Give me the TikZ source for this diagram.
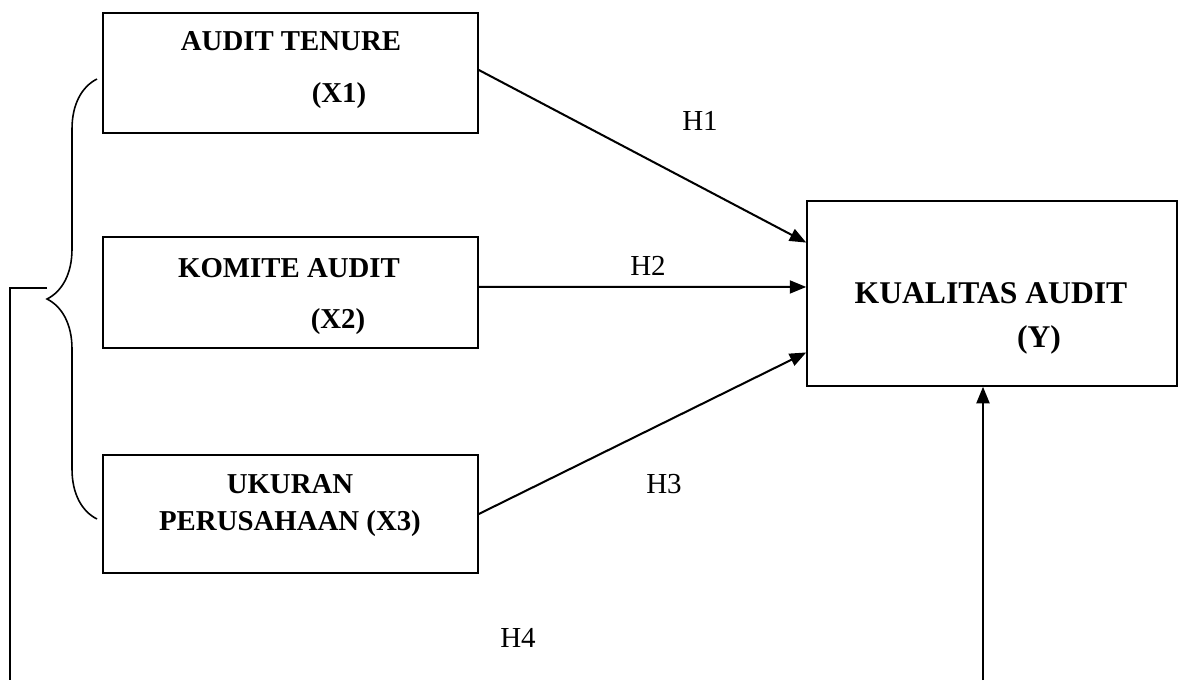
\documentclass[tikz,border=0pt]{standalone}
\usepackage{fontspec}
\setmainfont{Liberation Serif}
\usetikzlibrary{calc, arrows.meta, decorations.pathreplacing}
\tikzset{
    varbox/.style={draw, line width=0.9pt, inner sep=0pt},
    boxtext/.style={font=\bfseries\fontsize{16.4}{19}\selectfont, anchor=base},
    ytext/.style={font=\bfseries\fontsize{18}{21}\selectfont, anchor=base},
    hlabel/.style={font=\fontsize{16.5}{20}\selectfont, anchor=base},
    link/.style={line width=1.15pt, -{Triangle[length=3.3mm, width=2.6mm]}},
    common settings/.style={x=0.02cm, y=-0.02cm}
}

\begin{document}
\begin{tikzpicture}[common settings]

    \useasboundingbox (0,0) rectangle (1184,680);

    % 1. Variable boxes
    \node[varbox, minimum width=7.5cm, minimum height=2.4cm]  (x1) at (290.5,73) {};
    \node[varbox, minimum width=7.5cm, minimum height=2.22cm] (x2) at (290.5,292.5) {};
    \node[varbox, minimum width=7.5cm, minimum height=2.36cm] (x3) at (290.5,514) {};
    \node[varbox, minimum width=7.4cm, minimum height=3.7cm]  (y)  at (992,293.5) {};

    % 2. Box texts
    \node[boxtext] (x1name) at (291,50)  {AUDIT TENURE};
    \node[boxtext] (x1code) at (339,102) {(X1)};
    \node[boxtext] (x2name) at (289,277) {KOMITE AUDIT};
    \node[boxtext] (x2code) at (338,328) {(X2)};
    \node[boxtext] (x3name) at (290,493) {UKURAN};
    \node[boxtext] (x3code) at (290,530) {PERUSAHAAN (X3)};
    \node[ytext]   (yname)  at (991,303) {KUALITAS AUDIT};
    \node[ytext]   (ycode)  at (1039,347) {(Y)};

    % 3. Hypothesis arrows
    \draw[link] ($(x1.north east)!0.475!(x1.south east)$) -- ($(y.north west)!0.227!(y.south west)$);
    \draw[link] ($(x2.north east)!0.45!(x2.south east)$)  -- ($(y.north west)!0.465!(y.south west)$);
    \draw[link] (x3.east) -- ($(y.north west)!0.816!(y.south west)$);

    \node[hlabel] (h1) at (700,130) {H1};
    \node[hlabel] (h2) at (648,275) {H2};
    \node[hlabel] (h3) at (664,493) {H3};
    \node[hlabel] (h4) at (518,647) {H4};

    % 4. Brace over X1--X3 and the joint path to Y
    \draw[decorate, decoration={brace, amplitude=1cm}, line width=0.9pt]
        (97,519) -- (97,79);

    \coordinate (tip)    at (47,288);
    \coordinate (corner) at (10,288);
    \coordinate (lbot)   at (10,680);
    \coordinate (rbot)   at (983,680);

    \draw[line width=0.9pt] (tip) -- (corner) -- (lbot);
    \draw[link] (rbot) -- (y.south -| rbot);

\end{tikzpicture}
\end{document}
